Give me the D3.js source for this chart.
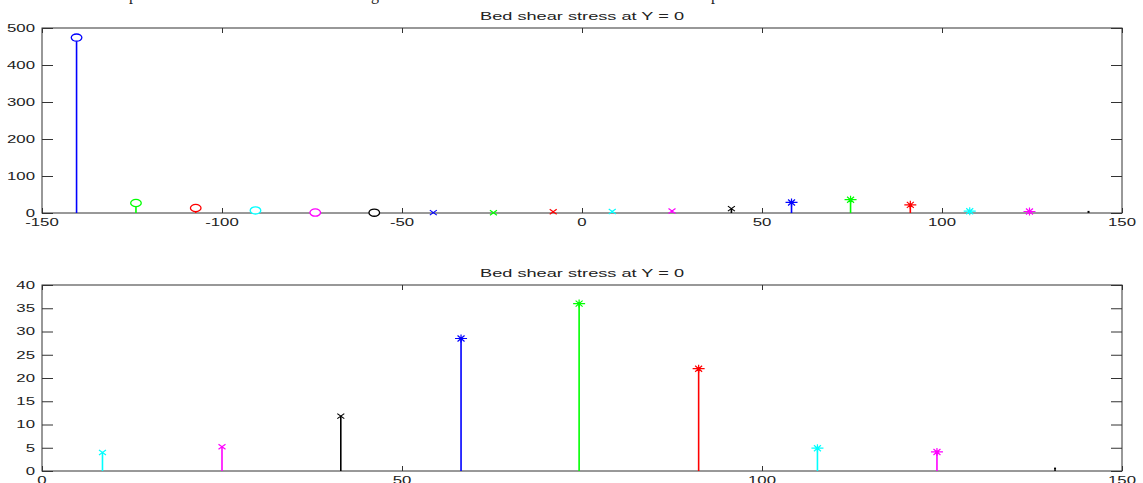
<!DOCTYPE html>
<html>
<head>
<meta charset="utf-8">
<script src="https://cdn.jsdelivr.net/npm/d3@7"></script>
<style>
  html, body { margin: 0; padding: 0; background: #fff; }
  svg { display: block; }
</style>
</head>
<body>
<svg id="chart" width="1143" height="483"></svg>
<script>
// ---- data ----
const xPositions = [-140.4, -123.9, -107.3, -90.7, -74.1, -57.7, -41.3, -24.6, -8.0, 8.4, 25.0, 41.5, 58.2, 74.6, 91.2, 107.7, 124.3, 140.7];
const stressValues = [474, 27, 13.5, 7, 1.2, 1.0, 1.0, 0.6, 3.2, 4.0, 5.2, 11.8, 28.5, 36.0, 22.0, 4.9, 4.1, 0.3];
const seriesColors = ["#0000ff", "#00ff00", "#ff0000", "#00ffff", "#ff00ff", "#000000",
                      "#0000ff", "#00ff00", "#ff0000", "#00ffff", "#ff00ff", "#000000",
                      "#0000ff", "#00ff00", "#ff0000", "#00ffff", "#ff00ff", "#000000"];
const markerTypes = ["o", "o", "o", "o", "o", "o", "x", "x", "x", "x", "x", "x", "*", "*", "*", "*", "*", "."];
const chartTitle = "Bed shear stress at Y = 0";
const topXTicks = [-150, -100, -50, 0, 50, 100, 150];
const topYTicks = [0, 100, 200, 300, 400, 500];
const bottomXTicks = [0, 50, 100, 150];
const bottomYTicks = [0, 5, 10, 15, 20, 25, 30, 35, 40];
const captionFragments = ["p", "g", "p"];

const points = xPositions.map((x, i) => ({ x, v: stressValues[i], c: seriesColors[i], m: markerTypes[i] }));

const svg = d3.select("#chart");
const FONT = "'Liberation Sans', Arial, sans-serif";
const SX = 1.6;

// cropped caption line above the figure (only descenders visible)
const fragX = [129, 371, 711];
svg.selectAll("text.frag").data(captionFragments).join("text")
  .attr("class", "frag")
  .attr("x", (d, i) => fragX[i]).attr("y", 0)
  .attr("font-family", "'Liberation Serif', 'Times New Roman', serif")
  .attr("font-size", 16).attr("fill", "#222")
  .text(d => d);

function drawPanel(cfg) {
  const x = d3.scaleLinear().domain(cfg.xDomain).range([cfg.left, cfg.right]);
  const y = d3.scaleLinear().domain(cfg.yDomain).range([cfg.bottom, cfg.top]);
  const g = svg.append("g");
  const axisColor = "#333";

  // box
  g.append("rect").attr("x", cfg.left).attr("y", cfg.top)
    .attr("width", cfg.right - cfg.left).attr("height", cfg.bottom - cfg.top)
    .attr("fill", "none").attr("stroke", axisColor).attr("stroke-width", 1);

  // bottom & top x ticks (inward)
  const xAxisB = d3.axisBottom(x).tickValues(cfg.xTicks).tickSize(-5).tickFormat("");
  const xAxisT = d3.axisTop(x).tickValues(cfg.xTicks).tickSize(-5).tickFormat("");
  const yAxisL = d3.axisLeft(y).tickValues(cfg.yTicks).tickSize(-11).tickFormat("");
  const yAxisR = d3.axisRight(y).tickValues(cfg.yTicks).tickSize(-11).tickFormat("");
  [[xAxisB, `translate(0,${cfg.bottom})`], [xAxisT, `translate(0,${cfg.top})`],
   [yAxisL, `translate(${cfg.left},0)`], [yAxisR, `translate(${cfg.right},0)`]].forEach(([ax, tr]) => {
    const a = g.append("g").attr("transform", tr).call(ax);
    a.select(".domain").remove();
    a.selectAll(".tick line").attr("stroke", axisColor).attr("stroke-width", 1);
  });

  // x tick labels
  g.selectAll("text.xl").data(cfg.xTicks).join("text")
    .attr("class", "xl")
    .attr("transform", d => `translate(${x(d)},${cfg.bottom + 13}) scale(${SX},1)`)
    .attr("text-anchor", "middle")
    .attr("font-family", FONT).attr("font-size", 10.5).attr("fill", "#222")
    .text(d => d);

  // y tick labels
  g.selectAll("text.yl").data(cfg.yTicks).join("text")
    .attr("class", "yl")
    .attr("transform", d => `translate(35,${y(d) + 3.8}) scale(${SX},1)`)
    .attr("text-anchor", "end")
    .attr("font-family", FONT).attr("font-size", 10.5).attr("fill", "#222")
    .text(d => d);

  // title
  g.append("text")
    .attr("x", (cfg.left + cfg.right) / 2).attr("y", cfg.top - 8)
    .attr("text-anchor", "middle")
    .attr("font-family", FONT).attr("font-size", 10.5).attr("fill", "#222")
    .attr("textLength", 204).attr("lengthAdjust", "spacingAndGlyphs")
    .text(chartTitle);

  const data = points.filter(p => p.x >= cfg.xDomain[0] && p.x <= cfg.xDomain[1]);

  // stems
  g.selectAll("line.stem").data(data).join("line")
    .attr("class", "stem")
    .attr("x1", d => x(d.x)).attr("x2", d => x(d.x))
    .attr("y1", y(0)).attr("y2", d => y(d.v))
    .attr("stroke", d => d.c).attr("stroke-width", 1.6);

  // markers
  const mk = g.selectAll("g.mk").data(data).join("g")
    .attr("class", "mk")
    .attr("transform", d => `translate(${x(d.x)},${y(d.v)})`);
  mk.each(function(d) {
    const s = d3.select(this);
    if (d.m === "o") {
      s.append("ellipse").attr("rx", 5.3).attr("ry", 3.6)
        .attr("fill", "#fff").attr("stroke", d.c).attr("stroke-width", 1.3);
    } else if (d.m === "x") {
      s.append("path").attr("d", "M-3.5,-2.5L3.5,2.5M-3.5,2.5L3.5,-2.5")
        .attr("stroke", d.c).attr("stroke-width", 1.2).attr("fill", "none");
    } else if (d.m === "*") {
      s.append("path").attr("d", "M-6,0L6,0M0,-4L0,4M-3.5,-3L3.5,3M-3.5,3L3.5,-3")
        .attr("stroke", d.c).attr("stroke-width", 1.2).attr("fill", "none");
    } else {
      s.append("rect").attr("x", -1).attr("y", -2).attr("width", 2).attr("height", 2)
        .attr("fill", d.c);
    }
  });
}

drawPanel({ left: 42, right: 1122, top: 28, bottom: 213,
            xDomain: [-150, 150], yDomain: [0, 500], xTicks: topXTicks, yTicks: topYTicks });
drawPanel({ left: 42, right: 1122, top: 285, bottom: 471,
            xDomain: [0, 150], yDomain: [0, 40], xTicks: bottomXTicks, yTicks: bottomYTicks });
</script>
</body>
</html>
